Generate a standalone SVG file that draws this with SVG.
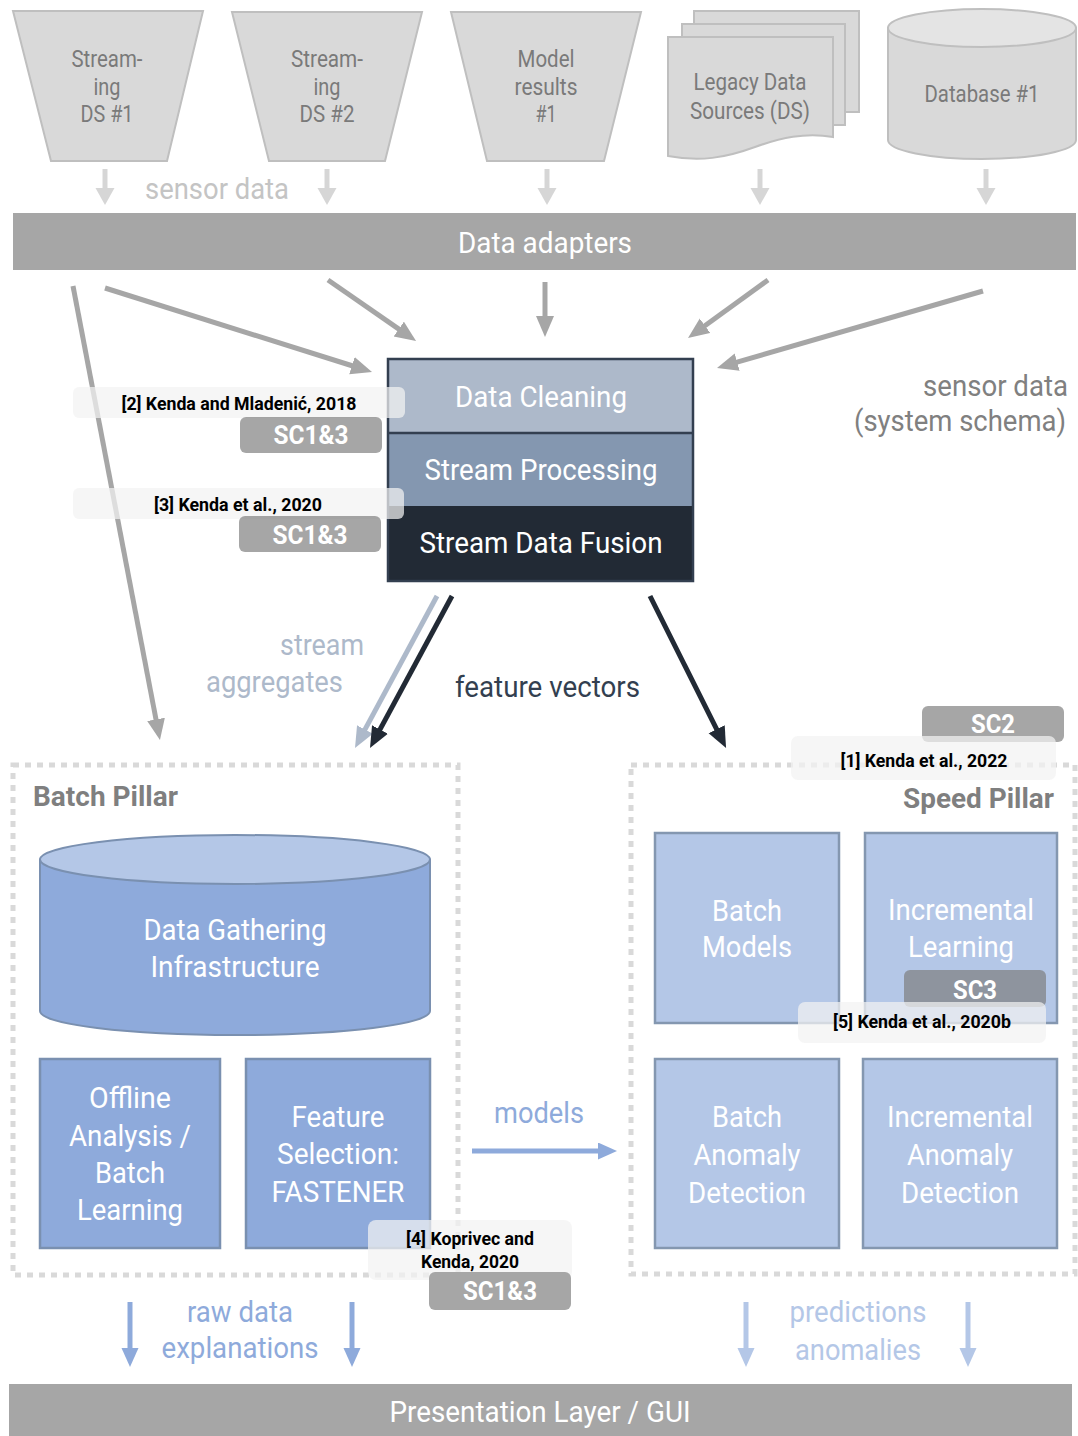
<svg xmlns="http://www.w3.org/2000/svg" width="1078" height="1436" viewBox="0 0 1078 1436">
  <style>
    text { font-family: Roboto, "Liberation Sans", sans-serif; }
    .c { text-anchor: middle; }
    .r { text-anchor: end; }
    .b { font-weight: bold; }
    .src { fill: #d9d9d9; stroke: #bfbfbf; stroke-width: 2; }
    .srct { fill: #7a7a7a; font-size: 23px; }
    .white { fill: #ffffff; }
    .box1 { fill: #8eaadb; stroke: #7a90b0; stroke-width: 2.5; }
    .box2 { fill: #b4c7e7; stroke: #8497b0; stroke-width: 2.5; }
    .bt { fill: #ffffff; font-size: 30px; }
    .pillar { fill: none; stroke: #d9d9d9; stroke-width: 5; stroke-dasharray: 6 6; }
    .ref { fill: #f2f2f2; fill-opacity: 0.72; }
    .reft { fill: #000000; font-size: 18px; font-weight: bold; }
    .badge { fill: #7c7c7c; fill-opacity: 0.68; }
    .badget { fill: #ffffff; font-size: 25px; font-weight: bold; }
    .ga { stroke: #a6a6a6; stroke-width: 5; fill: none; }
    .la { stroke: #d6d6d6; stroke-width: 5; fill: none; }
  </style>
  <defs>
    <marker id="hGray" markerUnits="userSpaceOnUse" markerWidth="22" markerHeight="20" refX="1" refY="9" orient="auto">
      <path d="M0,0 L21,9 L0,18 Z" fill="#a6a6a6"/>
    </marker>
    <marker id="hLight" markerUnits="userSpaceOnUse" markerWidth="18" markerHeight="20" refX="1" refY="9.5" orient="auto">
      <path d="M0,0 L17,9.5 L0,19 Z" fill="#d6d6d6"/>
    </marker>
    <marker id="hSlate" markerUnits="userSpaceOnUse" markerWidth="22" markerHeight="20" refX="1" refY="9" orient="auto">
      <path d="M0,0 L21,9 L0,18 Z" fill="#adb9ca"/>
    </marker>
    <marker id="hDark" markerUnits="userSpaceOnUse" markerWidth="22" markerHeight="20" refX="1" refY="9" orient="auto">
      <path d="M0,0 L21,9 L0,18 Z" fill="#222a35"/>
    </marker>
    <marker id="hBlue" markerUnits="userSpaceOnUse" markerWidth="20" markerHeight="18" refX="1" refY="8.5" orient="auto">
      <path d="M0,0 L19,8.5 L0,17 Z" fill="#8eaadb"/>
    </marker>
    <marker id="hPale" markerUnits="userSpaceOnUse" markerWidth="20" markerHeight="18" refX="1" refY="8.5" orient="auto">
      <path d="M0,0 L19,8.5 L0,17 Z" fill="#b4c7e7"/>
    </marker>
  </defs>

  <rect width="1078" height="1436" fill="#ffffff"/>

  <!-- data sources -->
  <g id="stream-ds-1">
    <polygon class="src" points="13,11 203,11 167,161 51,161"/>
    <text class="srct c" x="107" y="67" textLength="71" lengthAdjust="spacingAndGlyphs">Stream-</text>
    <text class="srct c" x="107" y="95" textLength="27" lengthAdjust="spacingAndGlyphs">ing</text>
    <text class="srct c" x="107" y="122" textLength="53" lengthAdjust="spacingAndGlyphs">DS #1</text>
  </g>
  <g id="stream-ds-2">
    <polygon class="src" points="232,12 422,12 385,161 269,161"/>
    <text class="srct c" x="327" y="67" textLength="72" lengthAdjust="spacingAndGlyphs">Stream-</text>
    <text class="srct c" x="327" y="95" textLength="27" lengthAdjust="spacingAndGlyphs">ing</text>
    <text class="srct c" x="327" y="122" textLength="55" lengthAdjust="spacingAndGlyphs">DS #2</text>
  </g>
  <g id="model-results">
    <polygon class="src" points="451,12 641,12 604,161 487,161"/>
    <text class="srct c" x="546" y="67" textLength="57" lengthAdjust="spacingAndGlyphs">Model</text>
    <text class="srct c" x="546" y="95" textLength="63" lengthAdjust="spacingAndGlyphs">results</text>
    <text class="srct c" x="546" y="122" textLength="21" lengthAdjust="spacingAndGlyphs">#1</text>
  </g>
  <g id="legacy-ds">
    <rect class="src" x="694" y="11" width="165" height="101"/>
    <rect class="src" x="682" y="24" width="163" height="101"/>
    <path class="src" d="M668,37 H833 V137 C805,132 780,138 755,147 C725,158 700,162 668,156 Z"/>
    <text class="srct c" x="750" y="90" textLength="113" lengthAdjust="spacingAndGlyphs">Legacy Data</text>
    <text class="srct c" x="750" y="119" textLength="120" lengthAdjust="spacingAndGlyphs">Sources (DS)</text>
  </g>
  <g id="database-1">
    <path class="src" d="M888,28 V140 A94,19 0 0 0 1076,140 V28 Z"/>
    <ellipse cx="982" cy="28" rx="94" ry="19" fill="#e4e4e4" stroke="#bfbfbf" stroke-width="2"/>
    <text class="srct c" x="982" y="102" textLength="115" lengthAdjust="spacingAndGlyphs">Database #1</text>
  </g>

  <!-- connectors -->
  <g id="connectors">
    <line class="la" x1="105" y1="169" x2="105" y2="189" marker-end="url(#hLight)"/>
    <line class="la" x1="327" y1="169" x2="327" y2="189" marker-end="url(#hLight)"/>
    <line class="la" x1="547" y1="169" x2="547" y2="189" marker-end="url(#hLight)"/>
    <line class="la" x1="760" y1="169" x2="760" y2="189" marker-end="url(#hLight)"/>
    <line class="la" x1="986" y1="169" x2="986" y2="189" marker-end="url(#hLight)"/>

    <line class="ga" x1="73" y1="286" x2="156.2" y2="720.4" marker-end="url(#hGray)"/>
    <line class="ga" x1="105" y1="288" x2="352.9" y2="366" marker-end="url(#hGray)"/>
    <line class="ga" x1="328" y1="280" x2="399.6" y2="329.6" marker-end="url(#hGray)"/>
    <line class="ga" x1="545" y1="282" x2="545" y2="317" marker-end="url(#hGray)"/>
    <line class="ga" x1="768" y1="280" x2="704.2" y2="326.3" marker-end="url(#hGray)"/>
    <line class="ga" x1="983" y1="291" x2="736.2" y2="362.4" marker-end="url(#hGray)"/>

    <line stroke="#adb9ca" stroke-width="5" x1="437" y1="596" x2="364.5" y2="730.4" marker-end="url(#hSlate)"/>
    <line stroke="#222a35" stroke-width="5" x1="452" y1="596" x2="379.5" y2="730.4" marker-end="url(#hDark)"/>
    <line stroke="#222a35" stroke-width="5" x1="650" y1="596" x2="717.1" y2="730.1" marker-end="url(#hDark)"/>

    <line stroke="#8eaadb" stroke-width="5" x1="472" y1="1151" x2="599" y2="1151" marker-end="url(#hBlue)"/>

    <line stroke="#8eaadb" stroke-width="5" x1="130" y1="1302" x2="130" y2="1349" marker-end="url(#hBlue)"/>
    <line stroke="#8eaadb" stroke-width="5" x1="352" y1="1302" x2="352" y2="1349" marker-end="url(#hBlue)"/>
    <line stroke="#b4c7e7" stroke-width="5" x1="746" y1="1302" x2="746" y2="1349" marker-end="url(#hPale)"/>
    <line stroke="#b4c7e7" stroke-width="5" x1="968" y1="1302" x2="968" y2="1349" marker-end="url(#hPale)"/>
  </g>

  <text x="217" y="199" class="c" font-size="29" fill="#c4c4c4" textLength="144" lengthAdjust="spacingAndGlyphs">sensor data</text>

  <!-- adapter bar -->
  <g id="data-adapters">
    <rect x="13" y="213" width="1063" height="57" fill="#a6a6a6"/>
    <text class="c white" x="545" y="253" font-size="29" textLength="174" lengthAdjust="spacingAndGlyphs">Data adapters</text>
  </g>

  <text class="r" x="1068" y="396" font-size="29" fill="#808080" textLength="145" lengthAdjust="spacingAndGlyphs">sensor data</text>
  <text class="r" x="1066" y="431" font-size="29" fill="#808080" textLength="212" lengthAdjust="spacingAndGlyphs">(system schema)</text>

  <!-- stream processing stack -->
  <g id="stream-stack">
    <rect x="388" y="359" width="305" height="74" fill="#adb9ca"/>
    <rect x="388" y="433" width="305" height="73" fill="#8497b0"/>
    <rect x="388" y="506" width="305" height="75" fill="#222a35"/>
    <line x1="388" y1="433" x2="693" y2="433" stroke="#333f50" stroke-width="2.5"/>
    <rect x="388" y="359" width="305" height="222" fill="none" stroke="#333f50" stroke-width="2.5"/>
    <text class="bt c" x="541" y="407" textLength="172" lengthAdjust="spacingAndGlyphs">Data Cleaning</text>
    <text class="bt c" x="541" y="480" textLength="233" lengthAdjust="spacingAndGlyphs">Stream Processing</text>
    <text class="bt c" x="541" y="553" textLength="243" lengthAdjust="spacingAndGlyphs">Stream Data Fusion</text>
  </g>

  <g id="ref-2">
    <rect class="ref" x="73" y="387" width="332" height="31" rx="6"/>
    <text class="reft c" x="239" y="410" textLength="235" lengthAdjust="spacingAndGlyphs">[2] Kenda and Mladenić, 2018</text>
    <rect class="badge" x="240" y="417" width="142" height="36" rx="6"/>
    <text class="badget c" x="311" y="444" textLength="75" lengthAdjust="spacingAndGlyphs">SC1&amp;3</text>
  </g>
  <g id="ref-3">
    <rect class="ref" x="73" y="488" width="331" height="31" rx="6"/>
    <text class="reft c" x="238" y="511" textLength="168" lengthAdjust="spacingAndGlyphs">[3] Kenda et al., 2020</text>
    <rect class="badge" x="239" y="516" width="142" height="36" rx="6"/>
    <text class="badget c" x="310" y="544" textLength="75" lengthAdjust="spacingAndGlyphs">SC1&amp;3</text>
  </g>

  <text class="r" x="364" y="655" font-size="29" fill="#adb9ca" textLength="84" lengthAdjust="spacingAndGlyphs">stream</text>
  <text class="r" x="343" y="692" font-size="29" fill="#adb9ca" textLength="137" lengthAdjust="spacingAndGlyphs">aggregates</text>
  <text x="455" y="697" font-size="29" fill="#333f50" textLength="185" lengthAdjust="spacingAndGlyphs">feature vectors</text>

  <!-- batch pillar -->
  <g id="batch-pillar">
    <rect class="pillar" x="13" y="765" width="445" height="510"/>
    <text x="33" y="806" font-size="28" class="b" fill="#7f7f7f" textLength="145" lengthAdjust="spacingAndGlyphs">Batch Pillar</text>
  </g>
  <g id="data-gathering">
    <path d="M40,859.5 V1011 A195,24 0 0 0 430,1011 V859.5 Z" fill="#8eaadb" stroke="#7a90b0" stroke-width="2"/>
    <ellipse cx="235" cy="859.5" rx="195" ry="24.5" fill="#b4c7e7" stroke="#7a90b0" stroke-width="2"/>
    <text class="bt c" x="235" y="940" textLength="183" lengthAdjust="spacingAndGlyphs">Data Gathering</text>
    <text class="bt c" x="235" y="977" textLength="169" lengthAdjust="spacingAndGlyphs">Infrastructure</text>
  </g>
  <g id="offline-analysis">
    <rect class="box1" x="40" y="1059" width="180" height="189"/>
    <text class="bt c" x="130" y="1108" textLength="82" lengthAdjust="spacingAndGlyphs">Offline</text>
    <text class="bt c" x="130" y="1146" textLength="122" lengthAdjust="spacingAndGlyphs">Analysis /</text>
    <text class="bt c" x="130" y="1183" textLength="70" lengthAdjust="spacingAndGlyphs">Batch</text>
    <text class="bt c" x="130" y="1220" textLength="106" lengthAdjust="spacingAndGlyphs">Learning</text>
  </g>
  <g id="feature-selection">
    <rect class="box1" x="246" y="1059" width="184" height="189"/>
    <text class="bt c" x="338" y="1127" textLength="93" lengthAdjust="spacingAndGlyphs">Feature</text>
    <text class="bt c" x="338" y="1164" textLength="122" lengthAdjust="spacingAndGlyphs">Selection:</text>
    <text class="bt c" x="338" y="1202" textLength="133" lengthAdjust="spacingAndGlyphs">FASTENER</text>
  </g>

  <text class="c" x="539" y="1123" font-size="29" fill="#8eaadb" textLength="90" lengthAdjust="spacingAndGlyphs">models</text>

  <!-- speed pillar -->
  <g id="speed-pillar">
    <rect class="pillar" x="631" y="765" width="444" height="509"/>
    <text class="r b" x="1054" y="808" font-size="28" fill="#7f7f7f" textLength="151" lengthAdjust="spacingAndGlyphs">Speed Pillar</text>
  </g>
  <g id="batch-models">
    <rect class="box2" x="655" y="833" width="184" height="190"/>
    <text class="bt c" x="747" y="921" textLength="70" lengthAdjust="spacingAndGlyphs">Batch</text>
    <text class="bt c" x="747" y="957" textLength="90" lengthAdjust="spacingAndGlyphs">Models</text>
  </g>
  <g id="incremental-learning">
    <rect class="box2" x="865" y="833" width="192" height="190"/>
    <text class="bt c" x="961" y="920" textLength="146" lengthAdjust="spacingAndGlyphs">Incremental</text>
    <text class="bt c" x="961" y="957" textLength="106" lengthAdjust="spacingAndGlyphs">Learning</text>
  </g>
  <g id="batch-anomaly">
    <rect class="box2" x="655" y="1059" width="184" height="189"/>
    <text class="bt c" x="747" y="1127" textLength="70" lengthAdjust="spacingAndGlyphs">Batch</text>
    <text class="bt c" x="747" y="1165" textLength="107" lengthAdjust="spacingAndGlyphs">Anomaly</text>
    <text class="bt c" x="747" y="1203" textLength="118" lengthAdjust="spacingAndGlyphs">Detection</text>
  </g>
  <g id="incremental-anomaly">
    <rect class="box2" x="863" y="1059" width="194" height="189"/>
    <text class="bt c" x="960" y="1127" textLength="146" lengthAdjust="spacingAndGlyphs">Incremental</text>
    <text class="bt c" x="960" y="1165" textLength="106" lengthAdjust="spacingAndGlyphs">Anomaly</text>
    <text class="bt c" x="960" y="1203" textLength="118" lengthAdjust="spacingAndGlyphs">Detection</text>
  </g>

  <g id="ref-1">
    <rect class="badge" x="922" y="706" width="142" height="36" rx="6"/>
    <text class="badget c" x="993" y="733" textLength="44" lengthAdjust="spacingAndGlyphs">SC2</text>
    <rect class="ref" x="791" y="736" width="265" height="44" rx="7"/>
    <text class="reft c" x="924" y="767" textLength="167" lengthAdjust="spacingAndGlyphs">[1] Kenda et al., 2022</text>
  </g>
  <g id="ref-5">
    <rect class="badge" x="904" y="970" width="142" height="37" rx="6"/>
    <text class="badget c" x="975" y="999" textLength="44" lengthAdjust="spacingAndGlyphs">SC3</text>
    <rect class="ref" x="798" y="1002" width="248" height="41" rx="7"/>
    <text class="reft c" x="922" y="1028" textLength="178" lengthAdjust="spacingAndGlyphs">[5] Kenda et al., 2020b</text>
  </g>
  <g id="ref-4">
    <rect class="ref" x="368" y="1220" width="204" height="60" rx="8"/>
    <text class="reft c" x="470" y="1245" textLength="128" lengthAdjust="spacingAndGlyphs">[4] Koprivec and</text>
    <text class="reft c" x="470" y="1268" textLength="98" lengthAdjust="spacingAndGlyphs">Kenda, 2020</text>
    <rect x="429" y="1272" width="142" height="38" rx="6" fill="#a6a6a6"/>
    <text class="badget c" x="500" y="1300" textLength="74" lengthAdjust="spacingAndGlyphs">SC1&amp;3</text>
  </g>

  <text class="c" x="240" y="1322" font-size="29" fill="#8eaadb" textLength="106" lengthAdjust="spacingAndGlyphs">raw data</text>
  <text class="c" x="240" y="1358" font-size="29" fill="#8eaadb" textLength="157" lengthAdjust="spacingAndGlyphs">explanations</text>
  <text class="c" x="858" y="1322" font-size="29" fill="#b4c7e7" textLength="137" lengthAdjust="spacingAndGlyphs">predictions</text>
  <text class="c" x="858" y="1360" font-size="29" fill="#b4c7e7" textLength="126" lengthAdjust="spacingAndGlyphs">anomalies</text>

  <!-- presentation bar -->
  <g id="presentation-layer">
    <rect x="9" y="1384" width="1063" height="52" fill="#a6a6a6"/>
    <text class="c white" x="540" y="1422" font-size="29" textLength="301" lengthAdjust="spacingAndGlyphs">Presentation Layer / GUI</text>
  </g>
</svg>
